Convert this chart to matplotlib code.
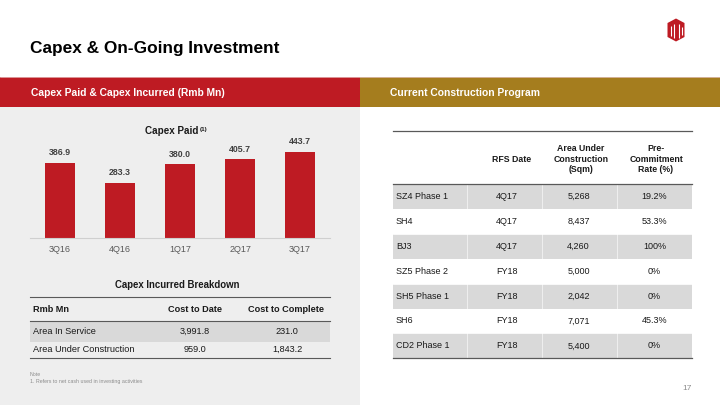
import matplotlib
matplotlib.use("Agg")
import matplotlib.pyplot as plt
from matplotlib.patches import Rectangle, Polygon

plt.rcParams['font.family'] = ['Liberation Sans', 'DejaVu Sans']

# ---------------- data ----------------
quarters = ['3Q16', '4Q16', '1Q17', '2Q17', '3Q17']
capex_paid = [386.9, 283.3, 380.0, 405.7, 443.7]

incurred_cols = ['Rmb Mn', 'Cost to Date', 'Cost to Complete']
incurred_rows = ['Area In Service', 'Area Under Construction']
cost_to_date = [3991.8, 959.0]
cost_to_complete = [231.0, 1843.2]

program_cols = ['', 'RFS Date', 'Area Under\nConstruction\n(Sqm)', 'Pre-\nCommitment\nRate (%)']
projects = ['SZ4 Phase 1', 'SH4', 'BJ3', 'SZ5 Phase 2', 'SH5 Phase 1', 'SH6', 'CD2 Phase 1']
rfs_dates = ['4Q17', '4Q17', '4Q17', 'FY18', 'FY18', 'FY18', 'FY18']
area_sqm = [5268, 8437, 4260, 5000, 2042, 7071, 5400]
precommit = ['19.2%', '53.3%', '100%', '0%', '0%', '45.3%', '0%']

RED = '#BE1B23'
GOLD = '#A57D1E'
PANEL = '#EEEEEE'
FILL = '#D9D9D9'
LINE = '#595959'
TXT = '#1A1A1A'

W, H = 720, 405
fig = plt.figure(figsize=(7.2, 4.05), dpi=100)
fig.patch.set_facecolor('white')

ov = fig.add_axes([0, 0, 1, 1], zorder=0)
ov.set_xlim(0, W)
ov.set_ylim(H, 0)
ov.axis('off')

# title
ov.text(30, 48, 'Capex & On-Going Investment', fontsize=12.4, fontweight='bold',
        color='black', ha='left', va='center')

# logo
hexpts = [(676, 18.5), (684.5, 23), (684.5, 37), (676, 41.5), (667.5, 37), (667.5, 23)]
ov.add_patch(Polygon(hexpts, closed=True, facecolor=RED, edgecolor='none'))
for xs, ys in [([670.5, 670.5], [26, 36]), ([673.5, 673.5], [24, 38]),
               ([678.5, 678.5], [24, 38]), ([681.5, 681.5], [27, 35])]:
    ov.plot(xs, ys, color='white', lw=0.8, solid_capstyle='butt')

# bands
ov.add_patch(Rectangle((0, 77), 360, 30, facecolor=RED, edgecolor='none'))
ov.add_patch(Rectangle((360, 77), 360, 30, facecolor=GOLD, edgecolor='none'))
ov.plot([0, 720], [77.3, 77.3], color='#E8C9C9', lw=0.5)
ov.text(31, 93, 'Capex Paid & Capex Incurred (Rmb Mn)', fontsize=7.4, fontweight='bold',
        color='white', ha='left', va='center')
ov.text(390, 93, 'Current Construction Program', fontsize=7.4, fontweight='bold',
        color='white', ha='left', va='center')

# left panel
ov.add_patch(Rectangle((0, 107), 360, H - 107, facecolor=PANEL, edgecolor='none'))

# ---------------- bar chart ----------------
base_y, top_y = 238, 141
ax = fig.add_axes([30 / W, (H - base_y) / H, 300 / W, (base_y - top_y) / H], zorder=1)
ax.set_facecolor('none')
x = list(range(len(quarters)))
bars = ax.bar(x, capex_paid, width=0.5, color=RED, zorder=2)
ax.set_xlim(-0.5, len(quarters) - 0.5)
ax.set_ylim(0, 500)
for xi, v in zip(x, capex_paid):
    ax.annotate(f'{v:.1f}', (xi, v), xytext=(0, 7.3), textcoords='offset points',
                ha='center', va='center', fontsize=6.3, fontweight='bold', color='#404040')
ax.set_xticks(x)
ax.set_xticklabels(quarters, fontsize=6.5, color='#595959')
ax.tick_params(axis='x', length=0, pad=4.8)
ax.set_yticks([])
for s in ['top', 'right', 'left']:
    ax.spines[s].set_visible(False)
ax.spines['bottom'].set_color('#CFCFCF')
ax.spines['bottom'].set_linewidth(0.8)

ov.text(198, 131.5, 'Capex Paid', fontsize=7.1, fontweight='bold', color=TXT,
        ha='right', va='center')
ov.text(200, 129, '(1)', fontsize=4.5, fontweight='bold', color=TXT, ha='left', va='center')

# ---------------- capex incurred table ----------------
ov.text(177, 285, 'Capex Incurred Breakdown', fontsize=6.9, fontweight='bold', color=TXT,
        ha='center', va='center')
ov.add_patch(Rectangle((30, 320.7), 300, 21, facecolor=FILL, edgecolor='none'))
for yy in [297.3, 320.7, 358.3]:
    ov.plot([30, 330], [yy, yy], color=LINE, lw=0.8)
hdr_x = [33, 195, 286]
hdr_ha = ['left', 'center', 'center']
for c, xx, ha in zip(incurred_cols, hdr_x, hdr_ha):
    ov.text(xx, 309.3, c, fontsize=6.6, fontweight='bold', color=TXT, ha=ha, va='center')
row_y = [331.5, 349.8]
for name, a, b, yy in zip(incurred_rows, cost_to_date, cost_to_complete, row_y):
    ov.text(33, yy, name, fontsize=6.6, color=TXT, ha='left', va='center')
    ov.text(195, yy, f'{a:,.1f}', fontsize=6.6, color=TXT, ha='center', va='center')
    ov.text(287, yy, f'{b:,.1f}', fontsize=6.6, color=TXT, ha='center', va='center')

ov.text(30, 374.8, 'Note', fontsize=3.8, color='#8C8C8C', ha='left', va='center')
ov.text(30, 381.2, '1. Refers to net cash used in investing activities', fontsize=3.8,
        color='#8C8C8C', ha='left', va='center')

# ---------------- construction program table ----------------
tx0, tx1 = 392.7, 691.7
hdr_top, hdr_bot, tbl_bot = 131, 184, 358.3
nrows = len(projects)
rh = (tbl_bot - hdr_bot) / nrows
col_edges = [tx0, 467, 542, 617, tx1]
for i in range(nrows):
    if i % 2 == 0:
        ov.add_patch(Rectangle((tx0, hdr_bot + i * rh), tx1 - tx0, rh,
                               facecolor=FILL, edgecolor='none'))
for i in range(nrows):
    for ce in col_edges[1:-1]:
        ov.plot([ce, ce], [hdr_bot + i * rh, hdr_bot + (i + 1) * rh], color='white', lw=0.4)
    if i > 0:
        ov.plot([tx0, tx1], [hdr_bot + i * rh, hdr_bot + i * rh], color='white', lw=0.6)
for yy in [hdr_top, hdr_bot, tbl_bot]:
    ov.plot([tx0, tx1], [yy, yy], color=LINE, lw=0.9)

hx = [396, 511.7, 580.7, 656]
for c, xx in zip(program_cols, hx):
    if c:
        ov.text(xx, 159.2, c, fontsize=6.3, fontweight='bold', color=TXT, ha='center',
                va='center', linespacing=1.25)
for i, (p, d, a, r) in enumerate(zip(projects, rfs_dates, area_sqm, precommit)):
    yy = hdr_bot + (i + 0.5) * rh
    ov.text(396, yy, p, fontsize=6.5, color=TXT, ha='left', va='center')
    ov.text(507, yy, d, fontsize=6.5, color=TXT, ha='center', va='center')
    ov.text(578.5, yy, f'{a:,}', fontsize=6.5, color=TXT, ha='center', va='center')
    ov.text(654.5, yy, r, fontsize=6.5, color=TXT, ha='center', va='center')

ov.text(691.5, 389, '17', fontsize=6, color='#8C8C8C', ha='right', va='center')

fig.savefig('out.png', dpi=100, facecolor=fig.get_facecolor())
